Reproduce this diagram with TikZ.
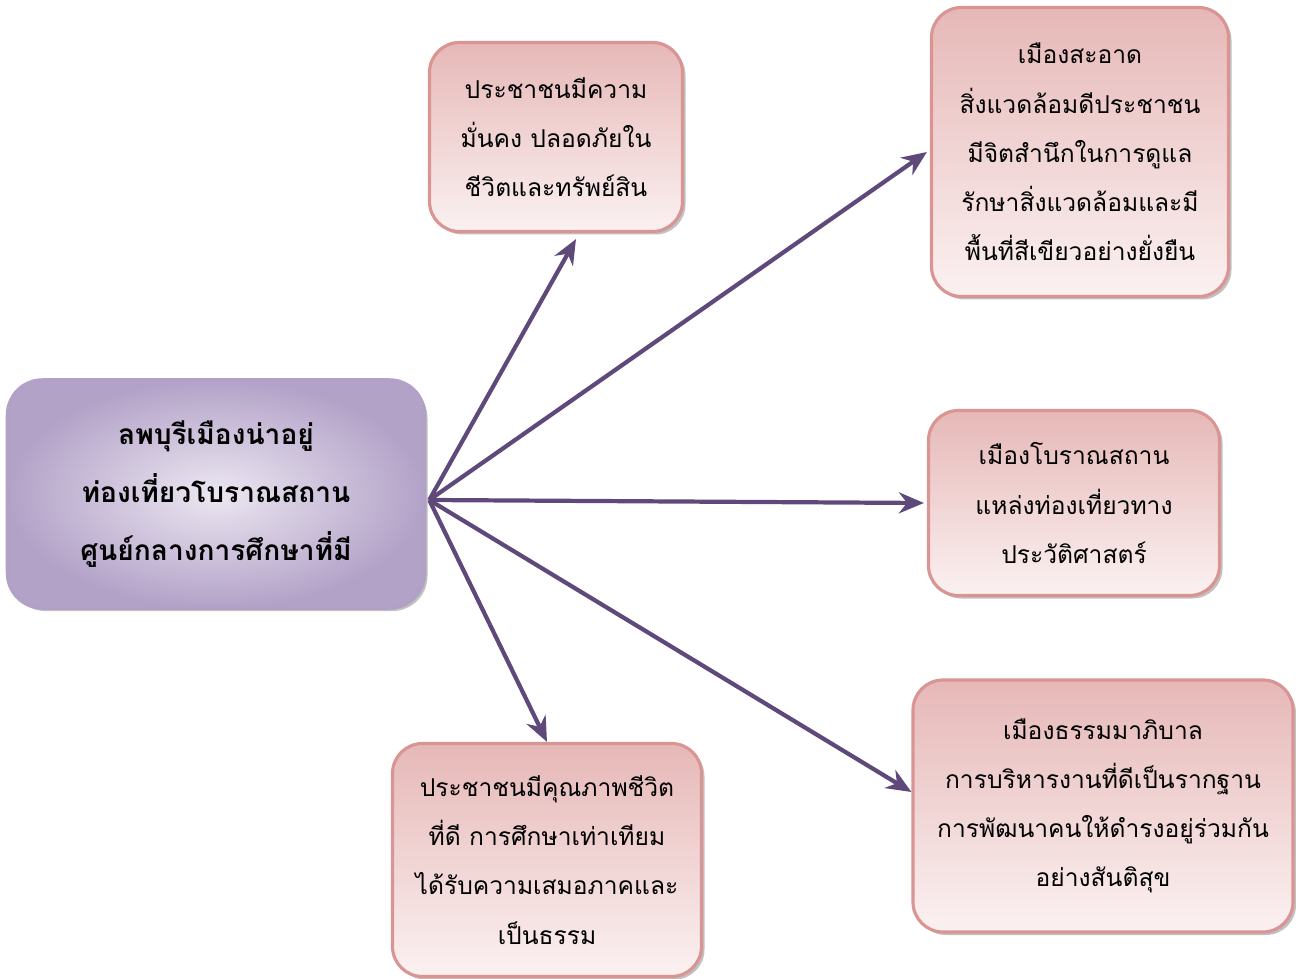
\documentclass[tikz,border=0pt]{standalone}
\usepackage{fontspec}
\newfontfamily\thaifont[Script=Thai]{Loma}
\usetikzlibrary{arrows.meta,shadows}
\definecolor{pinkline}{HTML}{D99594}
\definecolor{pinktop}{HTML}{E6B8B7}
\definecolor{pinkbot}{HTML}{FBF1F1}
\definecolor{lilacline}{HTML}{B2A1C7}
\definecolor{lilacdark}{HTML}{B3A2C8}
\definecolor{lilaclight}{HTML}{ECE7F1}
\definecolor{arrowpurple}{HTML}{5F497A}
\tikzset{
  goalbox/.style={draw=pinkline, line width=1.8pt, rounded corners=0.6cm,
    top color=pinktop, bottom color=pinkbot, align=center,
    font=\thaifont\fontsize{14}{28}\selectfont,
    drop shadow={shadow xshift=0.06cm, shadow yshift=-0.06cm, fill=gray!70, opacity=0.7}},
  mainbox/.style={draw=lilacline, line width=2pt, rounded corners=0.7cm,
    inner color=lilaclight, outer color=lilacdark,
    align=center, font=\thaifont\bfseries\fontsize{16}{33}\selectfont,
    drop shadow={shadow xshift=0.06cm, shadow yshift=-0.06cm, fill=gray!70, opacity=0.7}},
  link/.style={draw=arrowpurple, line width=2.4pt, -{Stealth[length=0.5cm,width=0.42cm]}}
}
\begin{document}
\begin{tikzpicture}
  \useasboundingbox (0,0) rectangle (25.92,-19.58);
  % centre
  \node[mainbox, minimum width=8.34cm, minimum height=4.56cm] (lop) at (4.32,-9.88)
    {ลพบุรีเมืองน่าอยู่\\ท่องเที่ยวโบราณสถาน\\ศูนย์กลางการศึกษาที่มี};
  % goals
  \node[goalbox, minimum width=5.06cm, minimum height=3.78cm] (safe) at (11.12,-2.74)
    {ประชาชนมีความ\\มั่นคง ปลอดภัยใน\\ชีวิตและทรัพย์สิน};
  \node[goalbox, minimum width=5.94cm, minimum height=5.78cm] (clean) at (21.6,-3.04)
    {เมืองสะอาด\\สิ่งแวดล้อมดีประชาชน\\มีจิตสำนึกในการดูแล\\รักษาสิ่งแวดล้อมและมี\\พื้นที่สีเขียวอย่างยั่งยืน};
  \node[goalbox, minimum width=5.82cm, minimum height=3.7cm] (ancient) at (21.48,-10.06)
    {เมืองโบราณสถาน\\แหล่งท่องเที่ยวทาง\\ประวัติศาสตร์};
  \node[goalbox, minimum width=7.6cm, minimum height=5.04cm] (govern) at (22.06,-16.12)
    {เมืองธรรมมาภิบาล\\การบริหารงานที่ดีเป็นรากฐาน\\การพัฒนาคนให้ดำรงอยู่ร่วมกัน\\อย่างสันติสุข};
  \node[goalbox, minimum width=6.18cm, minimum height=4.66cm] (quality) at (10.94,-17.2)
    {ประชาชนมีคุณภาพชีวิต\\ที่ดี การศึกษาเท่าเทียม\\ได้รับความเสมอภาคและ\\เป็นธรรม};
  % arrows
  \coordinate (hub) at ([xshift=0.06cm,yshift=-0.12cm]lop.east);
  \draw[link] (hub) -- ([xshift=0.4cm,yshift=-0.12cm]safe.south);
  \draw[link] (hub) -- ([xshift=-0.06cm]clean.west);
  \draw[link] (hub) -- ([xshift=-0.06cm]ancient.west);
  \draw[link] (hub) -- ([yshift=0.28cm]govern.west);
  \draw[link] (hub) -- (quality.north);
\end{tikzpicture}
\end{document}
